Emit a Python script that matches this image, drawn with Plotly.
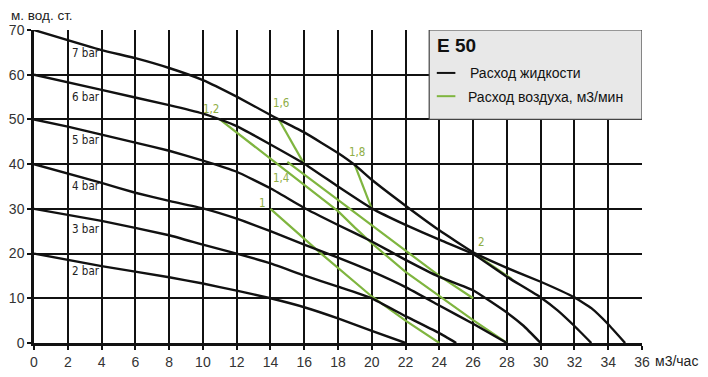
import plotly.graph_objects as go

# Liquid flow curves (black), x: м3/час, y: м. вод. ст.
bar_labels = ["7 bar", "6 bar", "5 bar", "4 bar", "3 bar", "2 bar"]
x7 = [0, 4, 6, 8, 10, 12, 14, 14.5, 16, 18, 19, 20, 22, 24, 26, 28, 30, 32, 33, 34, 35]
y7 = [70, 65.5, 63.7, 61.5, 58.8, 55.1, 51, 50, 47.1, 42.5, 39.8, 36.5, 30.7, 25.2, 20.3, 16.8, 13.7, 10.2, 7.8, 4.2, 0]
x6 = [0, 4, 8, 10, 11, 12, 14, 16, 18, 20, 22, 24, 26, 28, 30, 31, 32, 33]
y6 = [60, 56.6, 53.2, 51.3, 50, 48.5, 44.4, 40.1, 35, 30.1, 26.4, 23.1, 19.9, 14.8, 10.2, 7.3, 3.8, 0]
x5 = [0, 2, 4, 6, 8, 10, 12, 14, 16, 18, 20, 22, 24, 26, 28, 29, 30]
y5 = [50, 48.4, 46.6, 44.8, 43, 40.8, 38.3, 34.6, 30.2, 26.4, 22.7, 18.6, 14.8, 11.8, 6.8, 3.8, 0]
x4 = [0, 4, 6, 8, 10, 12, 14, 16, 18, 20, 22, 24, 26, 28]
y4 = [40, 35.8, 33.6, 31.8, 30.1, 27.8, 25, 22, 19.1, 16, 12.5, 8.4, 4.3, 0]
x3 = [0, 4, 8, 10, 12, 14, 16, 18, 20, 22, 24, 25]
y3 = [30, 27.3, 24.1, 22, 20, 17.8, 15.1, 12.6, 10, 6, 2.2, 0]
x2 = [0, 4, 8, 10, 12, 14, 16, 18, 20, 22]
y2 = [20, 17.2, 14.7, 13.3, 11.7, 10, 8, 5.5, 2.7, 0]

# Air consumption lines (green), м3/мин
air_labels = ["1", "1,2", "1,4", "1,6", "1,8", "2"]
ax1 = [14, 17, 20, 22, 24]
ay1 = [30, 20, 10.4, 5, 0]
ax12 = [11, 14, 16, 18, 19, 20, 22, 24, 26, 28]
ay12 = [50, 41.2, 35.5, 29.5, 25.8, 22.3, 15.9, 10.4, 5.1, 0]
ax14 = [15, 18, 20, 22, 24, 26]
ay14 = [40.5, 32, 26.3, 20.6, 15, 10]
ax16 = [14.5, 16]
ay16 = [50, 40]
ax18 = [19, 20]
ay18 = [39.8, 30]
ax2 = [26, 28.3]
ay2 = [20.2, 14.3]

x_ticks = list(range(0, 37, 2))
y_ticks = list(range(0, 71, 10))

BLACK = "#111111"
GREEN = "#7fb53f"
GREEN_TXT = "#8fae45"
NARROW = "Liberation Sans Narrow, Arial Narrow, DejaVu Sans Condensed, sans-serif"
SANS = "Liberation Sans, Arial, sans-serif"

fig = go.Figure()

for xs, ys in [(ax1, ay1), (ax12, ay12), (ax14, ay14), (ax16, ay16), (ax18, ay18), (ax2, ay2)]:
    fig.add_trace(go.Scatter(x=xs, y=ys, mode="lines",
                             line=dict(color=GREEN, width=2.2),
                             hoverinfo="skip", showlegend=False))

for xs, ys in [(x7, y7), (x6, y6), (x5, y5), (x4, y4), (x3, y3), (x2, y2)]:
    fig.add_trace(go.Scatter(x=xs, y=ys, mode="lines",
                             line=dict(color=BLACK, width=2.4, shape="spline", smoothing=0.35),
                             hoverinfo="skip", showlegend=False))

# bar labels
bar_label_y = [64.9, 55.0, 45.4, 35.1, 25.5, 16.1]
for t, yy in zip(bar_labels, bar_label_y):
    fig.add_annotation(x=2.15, y=yy, text=t, showarrow=False, xanchor="left",
                       font=dict(family=NARROW, size=11.5, color="#222"))

# air labels
air_pos = [(13.5, 31.4), (10.5, 52.4), (14.6, 37.0), (14.6, 53.6), (19.1, 42.8), (26.5, 22.5)]
for t, (xx, yy) in zip(air_labels, air_pos):
    fig.add_annotation(x=xx, y=yy, text=t, showarrow=False,
                       font=dict(family=NARROW, size=11.5, color=GREEN_TXT))

# legend box
fig.add_shape(type="rect", x0=23.4, x1=36, y0=50, y1=70, layer="above",
              fillcolor="#e8e8e8", line=dict(color="#444", width=1.2))
fig.add_annotation(x=23.72, y=66.6, text="<b>E 50</b>", showarrow=False, xanchor="left",
                   font=dict(family=SANS, size=19, color="#111"))
fig.add_shape(type="line", x0=23.85, x1=24.95, y0=60.4, y1=60.4, layer="above",
              line=dict(color=BLACK, width=2))
fig.add_shape(type="line", x0=23.85, x1=24.95, y0=55.2, y1=55.2, layer="above",
              line=dict(color=GREEN, width=2))
fig.add_annotation(x=25.72, y=60.3, text="Расход жидкости", showarrow=False, xanchor="left",
                   font=dict(family=SANS, size=14, color="#111"))
fig.add_annotation(x=25.6, y=55.1, text="Расход воздуха, м3/мин", showarrow=False, xanchor="left",
                   font=dict(family=SANS, size=14, color="#111"))

# axis titles
fig.add_annotation(xref="paper", yref="paper", x=0, y=1.0, xshift=-25, yshift=14.5, text="м. вод. ст.",
                   showarrow=False, xanchor="left", yanchor="middle",
                   font=dict(family=SANS, size=13.5, color="#222"))
fig.add_annotation(xref="paper", yref="paper", x=1.0, y=0, xshift=11, yshift=-18, text="м3/час",
                   showarrow=False, xanchor="left", yanchor="middle",
                   font=dict(family=SANS, size=14, color="#222"))

fig.update_xaxes(range=[0, 36], tickvals=x_ticks, showgrid=True, gridcolor=BLACK, gridwidth=2,
                 zeroline=False, showline=True, linecolor=BLACK, linewidth=2.5,
                 ticks="outside", ticklen=4, tickwidth=2, tickcolor=BLACK, automargin=False,
                 tickfont=dict(family=SANS, size=14, color="#333"), mirror=False)
fig.update_yaxes(range=[0, 70], tickvals=y_ticks, showgrid=True, gridcolor=BLACK, gridwidth=2,
                 zeroline=False, showline=True, linecolor=BLACK, linewidth=2.5,
                 ticks="outside", ticklen=4, tickwidth=2, tickcolor=BLACK, automargin=False,
                 tickfont=dict(family=SANS, size=14, color="#333"))

# page body has an 8px default margin, so the figure is 8px smaller and margins shifted
fig.update_layout(width=700, height=369, margin=dict(l=26, r=66, t=22, b=34, autoexpand=False),
                  plot_bgcolor="white", paper_bgcolor="white", showlegend=False)

fig.write_html("out.html")
